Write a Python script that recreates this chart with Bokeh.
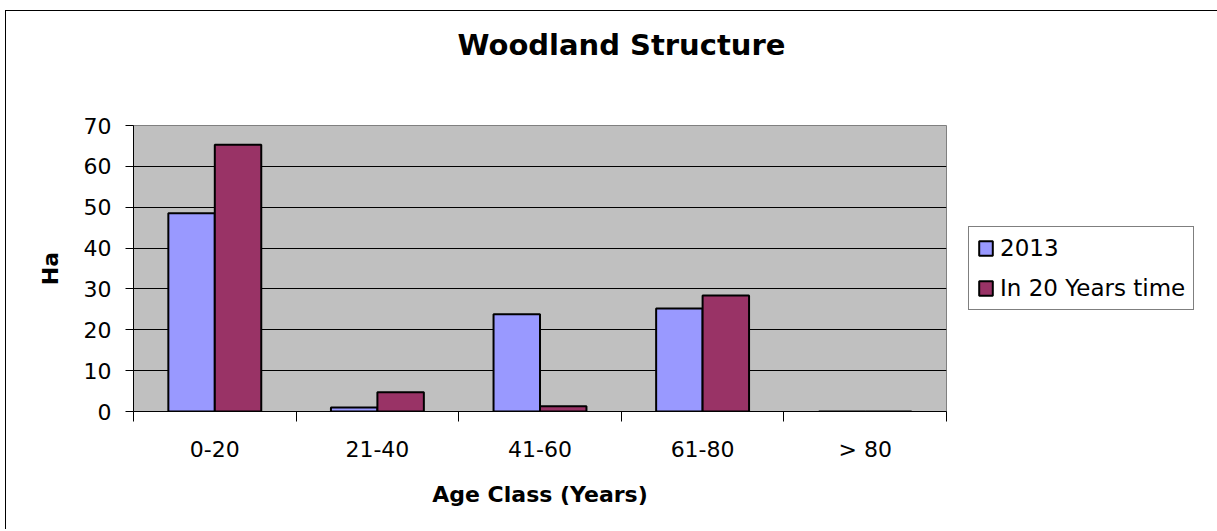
import numpy as np
from bokeh.plotting import figure
from bokeh.models import ColumnDataSource, FixedTicker, Range1d, Legend, LegendItem, Title
from bokeh.embed import file_html
from bokeh.resources import INLINE

categories = ["0-20", "21-40", "41-60", "61-80", "> 80"]
series_names = ["2013", "In 20 Years time"]
values_2013 = [48.5, 1.0, 23.8, 25.2, 0.0]
values_20y = [65.3, 4.7, 1.3, 28.4, 0.0]
colors = ["#9999FF", "#993366"]
y_ticks = [0, 10, 20, 30, 40, 50, 60, 70]

FONT = "DejaVu Sans"
n = len(categories)
centers = np.arange(n) + 0.5
bar_w = 1 / 3.5

p = figure(frame_width=813, frame_height=286, output_backend="svg", toolbar_location=None,
           x_range=Range1d(0, n), y_range=Range1d(0, 70),
           min_border_left=133, min_border_right=0, min_border_top=125, min_border_bottom=118)
p.styles = {
    "background": ("linear-gradient(#000,#000) 5px 10px / 1px 100% no-repeat, "
                   "linear-gradient(#000,#000) 5px 10px / 100% 1px no-repeat, #ffffff"),
}

p.background_fill_color = "#C0C0C0"
p.border_fill_alpha = 0
p.outline_line_color = "#808080"

renderers = []
for i, vals in enumerate([values_2013, values_20y]):
    src = ColumnDataSource(dict(x=centers + (i - 0.5) * bar_w, top=vals))
    r = p.vbar(x="x", top="top", width=bar_w, bottom=0, source=src,
               fill_color=colors[i], line_color="black", line_width=2)
    renderers.append(r)

# title
p.title.text = "Woodland Structure"
p.title.text_font = FONT
p.title.text_font_size = "29px"
p.title.text_font_style = "bold"
p.title.text_color = "black"
p.title.align = "left"
p.title.offset = 324
p.title.standoff = 10

# spacer between the title and the plot area
p.add_layout(Title(text=" ", text_font_size="10px", standoff=46), "above")

# y axis
ya = p.yaxis[0]
ya.ticker = FixedTicker(ticks=y_ticks)
ya.axis_label = "Ha"
ya.axis_label_text_font = FONT
ya.axis_label_text_font_size = "22px"
ya.axis_label_text_font_style = "bold"
ya.axis_label_text_color = "black"
ya.axis_label_standoff = 18
ya.major_label_text_font = FONT
ya.major_label_text_font_size = "22px"
ya.major_label_text_color = "black"
ya.major_tick_out = 8
ya.major_tick_in = 0
ya.major_label_standoff = 14
ya.minor_tick_line_color = None
ya.axis_line_color = "black"
ya.major_tick_line_color = "black"

# x axis
xa = p.xaxis[0]
xa.ticker = FixedTicker(ticks=list(centers), minor_ticks=list(range(n + 1)))
xa.major_label_overrides = {float(c): lab for c, lab in zip(centers, categories)}
xa.axis_label = "Age Class (Years)"
xa.axis_label_text_font = FONT
xa.axis_label_text_font_size = "22px"
xa.axis_label_text_font_style = "bold"
xa.axis_label_text_color = "black"
xa.axis_label_standoff = 17
xa.major_label_text_font = FONT
xa.major_label_text_font_size = "22px"
xa.major_label_text_color = "black"
xa.major_tick_line_color = None
xa.major_tick_out = 10
xa.major_tick_in = 0
xa.major_label_standoff = 15
xa.minor_tick_line_color = "black"
xa.minor_tick_out = 10
xa.minor_tick_in = 0
xa.axis_line_color = "black"

p.xgrid.grid_line_color = None
p.ygrid.grid_line_color = "black"
p.ygrid.ticker = FixedTicker(ticks=y_ticks)

legend = Legend(items=[LegendItem(label=series_names[i], renderers=[renderers[i]]) for i in range(2)],
                location="center_left", orientation="vertical",
                label_text_font=FONT, label_text_font_size="23px", label_text_color="black",
                glyph_width=17, glyph_height=18, label_height=20, spacing=14,
                padding=8, margin=22, label_standoff=6,
                border_line_color="black", border_line_width=1,
                background_fill_color="white", background_fill_alpha=1)
p.add_layout(legend, "right")

open("out.html", "w").write(file_html(p, INLINE))
